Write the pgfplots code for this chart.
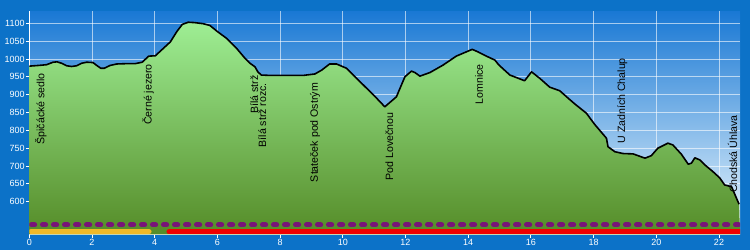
\documentclass[border=0pt]{standalone}
\usepackage{pgfplots}
\pgfplotsset{compat=1.18}
\usepackage{pgfplotstable}
\usepackage{fontspec}
\setmainfont{Liberation Sans}
\definecolor{outerblue}{RGB}{12,114,200}
\definecolor{plottop}{RGB}{25,120,212}
\definecolor{plotbot}{RGB}{237,249,254}
\definecolor{greentop}{RGB}{158,238,148}
\definecolor{greenbot}{RGB}{85,140,40}
\definecolor{purp}{RGB}{120,20,120}
\definecolor{gold}{RGB}{240,185,40}
\definecolor{redbar}{RGB}{240,0,0}

\pgfplotstableread{
x y
0.00 980
0.31 982
0.55 984
0.76 991
0.89 992
1.03 988
1.19 981
1.35 979
1.51 981
1.67 988
1.83 991
2.03 990
2.15 982
2.28 974
2.39 974
2.58 982
2.79 986
3.12 987
3.38 987
3.60 991
3.81 1008
4.02 1009
4.18 1022
4.50 1048
4.70 1076
4.88 1097
5.07 1103
5.27 1102
5.54 1099
5.76 1094
5.97 1079
6.29 1058
6.61 1030
6.88 1002
7.04 988
7.20 978
7.29 964
7.40 955
7.67 954
8.74 954
9.11 958
9.33 969
9.58 986
9.80 986
10.12 974
10.44 946
10.76 918
11.08 890
11.34 866
11.71 894
11.98 950
12.19 966
12.30 962
12.46 952
12.78 962
13.20 983
13.62 1008
13.94 1020
14.13 1027
14.31 1020
14.58 1008
14.85 997
14.98 983
15.33 955
15.80 939
16.02 964
16.28 946
16.60 921
16.92 911
17.19 890
17.40 874
17.77 848
18.04 816
18.41 778
18.46 754
18.68 740
18.94 735
19.26 734
19.64 722
19.84 729
20.05 750
20.37 764
20.53 759
20.80 733
21.02 705
21.12 708
21.23 723
21.39 717
21.55 703
21.81 684
22.02 667
22.18 647
22.40 642
22.64 593
}\prof

\begin{document}
\begin{tikzpicture}
\fill[outerblue] (0,0) rectangle (750pt,250pt);
\begin{axis}[
  at={(29.3pt,15.7pt)}, anchor=south west,
  scale only axis, width=710.7pt, height=223.3pt,
  xmin=0, xmax=22.67, ymin=508.6, ymax=1134.5,
  axis background/.style={top color=plottop, bottom color=plotbot},
  xtick={0,2,...,22}, ytick={600,650,...,1100},
  grid=major, grid style={white, opacity=0.6, line width=0.9pt},
  axis x line*=bottom, axis y line*=left,
  axis line style={white, line width=0.9pt},
  tick style={white, line width=0.9pt}, tick align=outside, major tick length=3.5pt,
  ticklabel style={white, font=\fontsize{9}{10}\selectfont},
  yticklabel style={inner sep=1pt},
  xticklabel style={inner sep=1.5pt},
  /pgf/number format/assume math mode=true,
  /pgf/number format/1000 sep={},
]
\addplot[draw=none, top color=greentop, bottom color=greenbot] table[x=x,y=y] {\prof}
  -- (rel axis cs:1,0) -- (rel axis cs:0,0) -- cycle;
\addplot[black, line width=1.6pt, line join=round] table[x=x,y=y] {\prof};
\addplot[purp, line width=5pt, line cap=round, dash pattern=on 3.2pt off 7.8pt] coordinates {(0.07,535) (22.8,535)};
\addplot[gold, line width=5pt, line cap=round] coordinates {(0.05,516) (3.82,516)};
\addplot[redbar, line width=5.3pt, line cap=round] coordinates {(4.46,516) (22.9,516)};
\begin{scope}[every node/.style={rotate=90, anchor=north east, inner sep=0pt, black, font=\fontsize{10.6}{12}\selectfont}]
\node at (axis cs:0.18,961) {Špičácké sedlo};
\node at (axis cs:3.60,986) {Černé jezero};
\node at (axis cs:7.04,955) {Bílá strž};
\node at (axis cs:7.30,933) {Bílá strž rozc.};
\node at (axis cs:8.95,933) {Stateček pod Ostrým};
\node at (axis cs:11.35,851) {Pod Lovečnou};
\node at (axis cs:14.22,986) {Lomnice};
\node at (axis cs:18.75,1003) {U Zadních Chalup};
\node at (axis cs:22.28,843) {Chodská Úhlava};
\end{scope}
\end{axis}
\end{tikzpicture}
\end{document}
